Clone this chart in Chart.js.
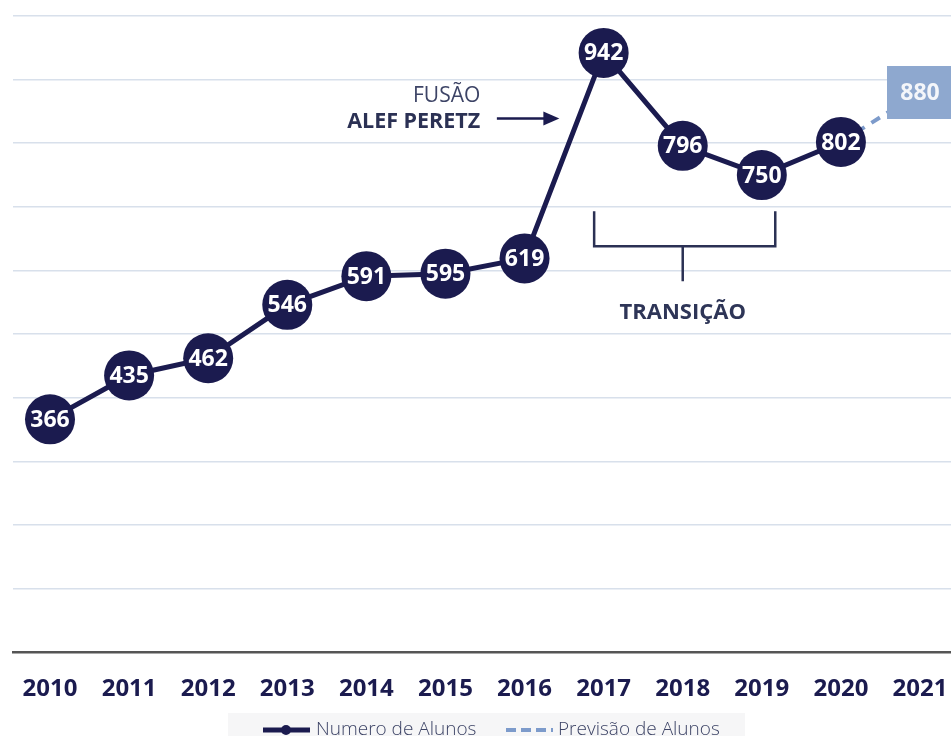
<!DOCTYPE html>
<html>
<head>
<meta charset="utf-8">
<script src="https://cdn.jsdelivr.net/npm/chart.js@4.4.1/dist/chart.umd.min.js"></script>
<style>
  html, body { margin: 0; padding: 0; background: #fff; }
  #wrap { width: 951px; height: 736px; position: relative; }
</style>
</head>
<body>
<div id="wrap"><canvas id="grafico" width="951" height="736"></canvas></div>
<script>
// dados
const anos = [2010, 2011, 2012, 2013, 2014, 2015, 2016, 2017, 2018, 2019, 2020];
const alunos = [366, 435, 462, 546, 591, 595, 619, 942, 796, 750, 802];
const anosPrevisao = [2020, 2021];
const previsao = [802, 880];
const anosEixo = [2010, 2011, 2012, 2013, 2014, 2015, 2016, 2017, 2018, 2019, 2020, 2021];

const azulEscuro = '#1b1b4f';
const azulClaro = '#8ea8cf';
const fonte = '"Open Sans", "Noto Sans", sans-serif';

// caixa da previsão (estilo do ponto)
const caixa = document.createElement('canvas');
caixa.width = 65;
caixa.height = 53;
const cctx = caixa.getContext('2d');
cctx.fillStyle = azulClaro;
cctx.fillRect(0, 0, 65, 53);

// rótulos dos pontos + anotações
const rotulos = {
    id: 'rotulos',
    afterDatasetsDraw(chart) {
        const ctx = chart.ctx;
        const xs = chart.scales.x, ys = chart.scales.y;
        ctx.save();
        ctx.textAlign = 'center';
        ctx.textBaseline = 'middle';
        ctx.fillStyle = '#fff';
        ctx.font = 'bold 23px ' + fonte;
        chart.getDatasetMeta(0).data.forEach((pt, i) => {
            ctx.fillText(String(alunos[i]), pt.x, pt.y + 1);
        });
        const ult = chart.getDatasetMeta(1).data[1];
        ctx.fillStyle = '#f4f6fa';
        ctx.fillText(String(previsao[1]), ult.x, ult.y + 1);

        // Fusão
        const px = v => xs.getPixelForValue(v);
        const py = v => ys.getPixelForValue(v);
        ctx.textAlign = 'right';
        ctx.fillStyle = '#3d4466';
        ctx.font = '21px ' + fonte;
        ctx.fillText('FUSÃO', px(2015.44), py(874));
        ctx.fillStyle = '#2b3154';
        ctx.font = 'bold 21.5px ' + fonte;
        ctx.fillText('ALEF PERETZ', px(2015.44), py(833));

        // seta
        const ay = py(839);
        const a0 = px(2015.65), a1 = px(2016.44);
        ctx.strokeStyle = azulEscuro;
        ctx.fillStyle = azulEscuro;
        ctx.lineWidth = 2.5;
        ctx.beginPath();
        ctx.moveTo(a0, ay);
        ctx.lineTo(a1 - 14, ay);
        ctx.stroke();
        ctx.beginPath();
        ctx.moveTo(a1, ay);
        ctx.lineTo(a1 - 16, ay - 7);
        ctx.lineTo(a1 - 16, ay + 7);
        ctx.closePath();
        ctx.fill();

        // chave da transição
        const b0 = px(2016.88), b1 = px(2019.17), bm = px(2018.0);
        const yt = py(693), yb = py(638), ys2 = py(583);
        ctx.strokeStyle = '#2b3154';
        ctx.lineWidth = 2.5;
        ctx.beginPath();
        ctx.moveTo(b0, yt);
        ctx.lineTo(b0, yb);
        ctx.lineTo(b1, yb);
        ctx.lineTo(b1, yt);
        ctx.moveTo(bm, yb);
        ctx.lineTo(bm, ys2);
        ctx.stroke();
        ctx.textAlign = 'center';
        ctx.fillStyle = '#2e3557';
        ctx.font = 'bold 22px ' + fonte;
        ctx.fillText('TRANSIÇÃO', bm, py(534));

        // legenda
        ctx.fillStyle = '#f6f6f7';
        ctx.fillRect(228, 713, 517, 30);
        const ly = 730;
        ctx.strokeStyle = azulEscuro;
        ctx.lineWidth = 5;
        ctx.setLineDash([]);
        ctx.beginPath();
        ctx.moveTo(263, ly);
        ctx.lineTo(310, ly);
        ctx.stroke();
        ctx.fillStyle = azulEscuro;
        ctx.beginPath();
        ctx.arc(286, ly, 5, 0, Math.PI * 2);
        ctx.fill();
        ctx.strokeStyle = '#7d9bcb';
        ctx.lineWidth = 4;
        ctx.setLineDash([10, 5]);
        ctx.beginPath();
        ctx.moveTo(506, ly);
        ctx.lineTo(553, ly);
        ctx.stroke();
        ctx.setLineDash([]);
        ctx.textAlign = 'left';
        ctx.fillStyle = '#3d4466';
        ctx.font = '300 19px ' + fonte;
        ctx.fillText(chart.data.datasets[0].label, 316, ly);
        ctx.fillText(chart.data.datasets[1].label, 558, ly);
        ctx.restore();
    }
};

const ctx = document.getElementById('grafico').getContext('2d');
new Chart(ctx, {
    type: 'line',
    data: {
        datasets: [{
            label: 'Numero de Alunos',
            data: anos.map((a, i) => ({ x: a, y: alunos[i] })),
            borderColor: azulEscuro,
            backgroundColor: azulEscuro,
            borderWidth: 5,
            pointRadius: 25,
            pointBorderWidth: 0,
            pointBackgroundColor: azulEscuro,
            tension: 0,
            clip: false
        }, {
            label: 'Previsão de Alunos',
            data: anosPrevisao.map((a, i) => ({ x: a, y: previsao[i] })),
            borderColor: '#7d9bcb',
            borderWidth: 4,
            borderDash: [10, 8],
            pointRadius: [0, 30],
            pointStyle: caixa,
            tension: 0,
            clip: false
        }]
    },
    options: {
        responsive: false,
        animation: false,
        events: [],
        layout: { autoPadding: false, padding: { left: 13, right: 0, top: 16, bottom: 17 } },
        plugins: {
            legend: { display: false },
            tooltip: { enabled: false }
        },
        scales: {
            x: {
                type: 'linear',
                min: 2009.532,
                max: 2021.392,
                afterBuildTicks: s => { s.ticks = anosEixo.map(v => ({ value: v })); },
                afterFit: s => { s.paddingLeft = 0; s.paddingRight = 0; },
                grid: { display: false },
                border: { display: true, color: '#555', width: 2.5 },
                ticks: {
                    padding: 15,
                    color: azulEscuro,
                    font: { family: fonte, size: 24, weight: 'bold' },
                    callback: v => String(v),
                    maxRotation: 0,
                    autoSkip: false
                }
            },
            y: {
                min: 0,
                max: 1000,
                afterFit: s => { s.paddingTop = 0; s.paddingBottom = 0; },
                ticks: { display: false, stepSize: 100 },
                grid: { color: '#d8e0eb', lineWidth: 1.5, drawTicks: false },
                border: { display: false }
            }
        }
    },
    plugins: [rotulos]
});
</script>
</body>
</html>
